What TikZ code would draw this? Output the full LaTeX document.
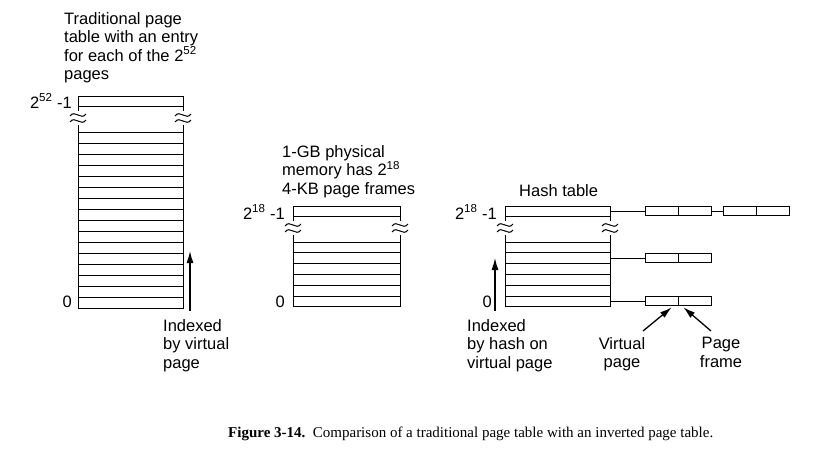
\documentclass[tikz,border=0pt]{standalone}
\usepackage{fontspec}
\setmainfont{Liberation Sans}
\newfontfamily\capfont{Liberation Serif}
\usetikzlibrary{arrows.meta}
\begin{document}
\begin{tikzpicture}[x=1pt,y=-1pt,
  lbl/.style={font=\fontsize{16.5}{18.5}\selectfont,inner sep=0pt},
  txt/.style={lbl,align=left,anchor=north west},
  cell/.style={draw,line width=0.9pt,minimum width=32.5pt,minimum height=9pt,inner sep=0pt,anchor=west},
  ln/.style={line width=0.9pt},
  arr/.style={line width=1.3pt,-{Latex[length=12pt,width=7pt]}}]
\useasboundingbox (0,0) rectangle (818,455);
% squiggle
\def\sq#1#2{\foreach \dy in {-3,3}{\draw[line width=1pt] (#1-8,#2+\dy+1) .. controls (#1-3,#2+\dy-6) and (#1+3,#2+\dy+6) .. (#1+8,#2+\dy-1);}}
% left table
\draw[ln] (78,96) rectangle (183,106);
\draw[ln] (78,106) -- (78,111) (183,106) -- (183,111);
\draw[ln] (78,125) -- (78,132) (183,125) -- (183,132);
\foreach \i in {0,...,15}{\draw[ln] (78,132+\i*11) rectangle (183,143+\i*11);}
\sq{78}{118}\sq{183}{118}
\node[lbl,anchor=east] (l1) at (72,101) {2\textsuperscript{52} -1};
\node[lbl,anchor=east] (l0) at (72,302) {0};
\coordinate (la1) at (190,311); \coordinate (la2) at (190,251);
\draw[arr] (la1) -- (la2);
\node[txt] (lt) at (64,12) {Traditional page\\table with an entry\\for each of the 2\textsuperscript{52}\\pages};
\node[txt] (li) at (163,319) {Indexed\\by virtual\\page};
% middle table
\draw[ln] (293,206) rectangle (400,216);
\draw[ln] (293,216) -- (293,221) (400,216) -- (400,221);
\draw[ln] (293,235) -- (293,242) (400,235) -- (400,242);
\foreach \i in {0,...,5}{\draw[ln] (293,242+\i*10.8) rectangle (400,252.8+\i*10.8);}
\sq{293}{228}\sq{400}{228}
\node[lbl,anchor=east] (m1) at (285,212) {2\textsuperscript{18} -1};
\node[lbl,anchor=east] (m0) at (285,302) {0};
\node[txt] (mt) at (282,145) {1-GB physical\\memory has 2\textsuperscript{18}\\4-KB page frames};
% hash table
\draw[ln] (505,206) rectangle (610,216);
\draw[ln] (505,216) -- (505,221) (610,216) -- (610,221);
\draw[ln] (505,235) -- (505,242) (610,235) -- (610,242);
\foreach \i in {0,...,5}{\draw[ln] (505,242+\i*10.8) rectangle (610,252.8+\i*10.8);}
\sq{505}{228}\sq{610}{228}
\node[lbl,anchor=east] (h1) at (497,212) {2\textsuperscript{18} -1};
\node[lbl,anchor=east] (h0) at (492,302) {0};
\node[lbl,anchor=west] (ht) at (519,191) {Hash table};
\coordinate (ha1) at (495,311); \coordinate (ha2) at (495,258);
\draw[arr] (ha1) -- (ha2);
\node[txt] (hi) at (467,319) {Indexed\\by hash on\\virtual page};
% chains
\coordinate (r1) at (610,211); \coordinate (r2) at (610,258.2); \coordinate (r3) at (610,301.4);
\node[cell] (a1) at (645,211) {}; \node[cell,anchor=west] (a2) at (a1.east) {};
\node[cell] (b1) at (723,211) {}; \node[cell,anchor=west] (b2) at (b1.east) {};
\node[cell] (c1) at (645,258.2) {}; \node[cell,anchor=west] (c2) at (c1.east) {};
\node[cell] (d1) at (645,301.4) {}; \node[cell,anchor=west] (d2) at (d1.east) {};
\draw[ln] (r1) -- (a1.west); \draw[ln] (a2.east) -- (b1.west);
\draw[ln] (r2) -- (c1.west); \draw[ln] (r3) -- (d1.west);
\node[lbl,align=center,anchor=north] (vp) at (622,337) {Virtual\\page};
\node[lbl,align=center,anchor=north] (pf) at (721,337) {Page\\frame};
\coordinate (v1) at (643,331); \coordinate (p1) at (711,331);
\draw[arr] (v1) -- ([xshift=10pt,yshift=-1pt]d1.south);
\draw[arr] (p1) -- ([xshift=5pt,yshift=-1pt]d2.south west);
% caption
\node[inner sep=0pt,anchor=west,font=\capfont\fontsize{15}{18}\selectfont] (cap) at (228,434) {\textbf{Figure 3-14.}\ \ Comparison of a traditional page table with an inverted page table.};
\end{tikzpicture}
\end{document}
